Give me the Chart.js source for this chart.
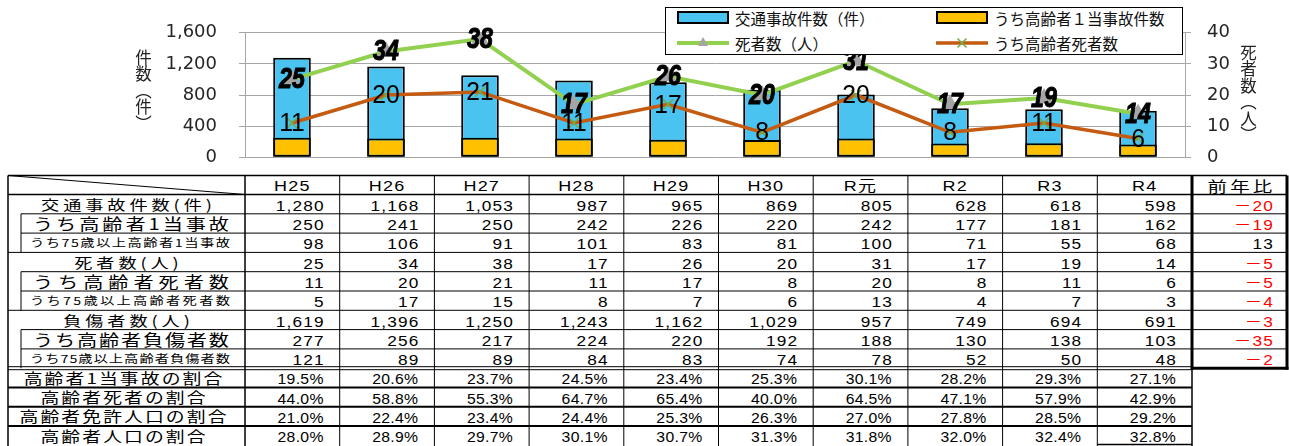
<!DOCTYPE html>
<html lang="ja">
<head>
<meta charset="utf-8">
<title>交通事故の推移</title>
<script src="https://cdn.jsdelivr.net/npm/chart.js@4.4.1/dist/chart.umd.min.js"></script>
<style>
  html, body { margin: 0; padding: 0; background: #fff; }
  #page { position: relative; width: 1289px; height: 446px; overflow: hidden; font-family: "Noto Sans CJK JP", sans-serif; }
  #table { position: absolute; left: 0; top: 0; z-index: 1; }
  #chartBox { position: absolute; left: 0; top: 0; width: 1289px; height: 190px; z-index: 2; }
  .axisTitle { position: absolute; writing-mode: vertical-rl; font-size: 16.5px; line-height: 1; color: #222; z-index: 3; }
  #legend { position: absolute; left: 665px; top: 7px; width: 516px; height: 46px; border: 1.5px solid #000; background: #fff; z-index: 3; }
  .lgItem { position: absolute; height: 20px; display: flex; align-items: center; }
  .lgItem span { margin-left: 5px; font-size: 15.5px; color: #111; white-space: nowrap; }
</style>
</head>
<body>
<div id="page">
  <svg id="table" width="1289" height="446"></svg>
  <div id="chartBox"><canvas id="chart" width="1289" height="190"></canvas></div>
  <div class="axisTitle" style="left:135px; top:49px;">件数（件）</div>
  <div class="axisTitle" style="left:1240px; top:44px;">死者数（人）</div>
  <div id="legend"></div>
</div>

<script>
// ---- data ----
const years = ['H25', 'H26', 'H27', 'H28', 'H29', 'H30', 'R元', 'R2', 'R3', 'R4'];

const accidents        = [1280, 1168, 1053, 987, 965, 869, 805, 628, 618, 598];
const elderlyAccidents = [250, 241, 250, 242, 226, 220, 242, 177, 181, 162];
const over75Accidents  = [98, 106, 91, 101, 83, 81, 100, 71, 55, 68];
const deaths           = [25, 34, 38, 17, 26, 20, 31, 17, 19, 14];
const elderlyDeaths    = [11, 20, 21, 11, 17, 8, 20, 8, 11, 6];
const over75Deaths     = [5, 17, 15, 8, 7, 6, 13, 4, 7, 3];
const injured          = [1619, 1396, 1250, 1243, 1162, 1029, 957, 749, 694, 691];
const elderlyInjured   = [277, 256, 217, 224, 220, 192, 188, 130, 138, 103];
const over75Injured    = [121, 89, 89, 84, 83, 74, 78, 52, 50, 48];

const yoyDiff = [-20, -19, 13, -5, -5, -4, -3, -35, -2];

const shareElderlyAccidents = [19.5, 20.6, 23.7, 24.5, 23.4, 25.3, 30.1, 28.2, 29.3, 27.1];
const shareElderlyDeaths    = [44.0, 58.8, 55.3, 64.7, 65.4, 40.0, 64.5, 47.1, 57.9, 42.9];
const shareElderlyLicense   = [21.0, 22.4, 23.4, 24.4, 25.3, 26.3, 27.0, 27.8, 28.5, 29.2];
const shareElderlyPop       = [28.0, 28.9, 29.7, 30.1, 30.7, 31.3, 31.8, 32.0, 32.4, 32.8];

const seriesNames = ['交通事故件数（件）', 'うち高齢者１当事故件数', '死者数（人）', 'うち高齢者死者数'];

const countLabels = ['交通事故件数(件)', 'うち高齢者1当事故', 'うち75歳以上高齢者1当事故',
                     '死者数(人)', 'うち高齢者死者数', 'うち75歳以上高齢者死者数',
                     '負傷者数(人)', 'うち高齢者負傷者数', 'うち75歳以上高齢者負傷者数'];
const countRows = [accidents, elderlyAccidents, over75Accidents, deaths, elderlyDeaths,
                   over75Deaths, injured, elderlyInjured, over75Injured];
const ratioLabels = ['高齢者1当事故の割合', '高齢者死者の割合', '高齢者免許人口の割合', '高齢者人口の割合'];
const ratioRows = [shareElderlyAccidents, shareElderlyDeaths, shareElderlyLicense, shareElderlyPop];
const diffHeader = '前年比';

// ---- colours ----
const BLUE = '#4BC3F1', ORANGE = '#FFC000', GREEN = '#92D050', BROWN = '#C55A11';
const TRI = '#A5A5A5', XMARK = '#70AD47', GRID = '#A6A6A6';

// ---- value labels drawn on the line points ----
const pointLabels = {
  id: 'pointLabels',
  afterDatasetsDraw(chart) {
    const ctx = chart.ctx;
    chart.data.datasets.forEach((ds, i) => {
      if (!ds.valueLabel) return;
      chart.getDatasetMeta(i).data.forEach((pt, j) => {
        ctx.save();
        ctx.translate(pt.x, pt.y + 1);
        ctx.scale(ds.valueLabel.sx, 1);
        ctx.font = ds.valueLabel.font;
        ctx.textAlign = 'center';
        ctx.textBaseline = 'middle';
        ctx.fillStyle = '#000';
        ctx.fillText(String(ds.data[j]), 0, 0);
        if (ds.valueLabel.stroke) {
          ctx.lineWidth = ds.valueLabel.stroke;
          ctx.strokeStyle = '#000';
          ctx.strokeText(String(ds.data[j]), 0, 0);
        }
        ctx.restore();
      });
    });
  }
};

const tickFont = { family: '"DejaVu Sans", sans-serif', size: 18 };

new Chart(document.getElementById('chart'), {
  type: 'bar',
  data: {
    labels: years,
    datasets: [
      { type: 'bar', label: seriesNames[0], data: accidents, yAxisID: 'y', order: 3,
        backgroundColor: BLUE, borderColor: '#000', borderWidth: 2, borderSkipped: false,
        grouped: false, barPercentage: 0.5, categoryPercentage: 0.8 },
      { type: 'bar', label: seriesNames[1], data: elderlyAccidents, yAxisID: 'y', order: 2,
        backgroundColor: ORANGE, borderColor: '#000', borderWidth: 2, borderSkipped: false,
        grouped: false, barPercentage: 0.5, categoryPercentage: 0.8 },
      { type: 'line', label: seriesNames[2], data: deaths, yAxisID: 'y1', order: 1,
        borderColor: GREEN, borderWidth: 4, tension: 0,
        pointStyle: 'triangle', pointRadius: 6, pointBackgroundColor: TRI, pointBorderColor: TRI,
        valueLabel: { font: 'italic bold 29px "Liberation Sans", sans-serif', sx: 0.8, stroke: 1 } },
      { type: 'line', label: seriesNames[3], data: elderlyDeaths, yAxisID: 'y1', order: 0,
        borderColor: BROWN, borderWidth: 3.5, tension: 0,
        pointStyle: 'crossRot', pointRadius: 7, pointBorderColor: XMARK, pointBorderWidth: 1.5,
        valueLabel: { font: '26px "Liberation Sans", sans-serif', sx: 0.95 } }
    ]
  },
  options: {
    responsive: false,
    animation: false,
    events: [],
    layout: { padding: { top: 26, bottom: 23, left: 0, right: 0 } },
    plugins: { legend: { display: false }, tooltip: { enabled: false } },
    scales: {
      x: { display: false },
      y: {
        position: 'left', min: 0, max: 1600,
        ticks: { stepSize: 400, padding: 22, color: '#262626', font: tickFont,
                 callback: v => v.toLocaleString('en-US') },
        grid: { color: GRID, tickLength: 6 },
        border: { color: GRID },
        afterFit(s) { s.width = 245; }
      },
      y1: {
        position: 'right', min: 0, max: 40,
        ticks: { stepSize: 10, padding: 16, color: '#262626', font: tickFont },
        grid: { drawOnChartArea: false, color: GRID, tickLength: 6 },
        border: { color: GRID },
        afterFit(s) { s.width = 104; }
      }
    }
  },
  plugins: [pointLabels]
});

// ---- legend ----
const legend = document.getElementById('legend');
const swatches = [
  `<rect x="1" y="4" width="50" height="11" fill="${BLUE}" stroke="#000" stroke-width="2"/>`,
  `<rect x="1" y="4" width="50" height="11" fill="${ORANGE}" stroke="#000" stroke-width="2"/>`,
  `<line x1="0" y1="10" x2="52" y2="10" stroke="${GREEN}" stroke-width="4"/><polygon points="26,4 31,13 21,13" fill="${TRI}"/>`,
  `<line x1="0" y1="10" x2="52" y2="10" stroke="${BROWN}" stroke-width="3.5"/><path d="M21.5,5.5 L30.5,14.5 M30.5,5.5 L21.5,14.5" stroke="${XMARK}" stroke-width="1.5"/>`
];
seriesNames.forEach((name, i) => {
  const d = document.createElement('div');
  d.className = 'lgItem';
  d.style.left = (i % 2 === 0 ? 11 : 270) + 'px';
  d.style.top = (i < 2 ? 0 : 25) + 'px';
  d.innerHTML = `<svg width="53" height="20">${swatches[i]}</svg><span>${name}</span>`;
  legend.appendChild(d);
});

// ---- table ----
const NS = 'http://www.w3.org/2000/svg';
const svg = document.getElementById('table');
const JP = '"Noto Sans CJK JP", sans-serif';
const NUM = '"Liberation Sans", "Noto Sans CJK JP", sans-serif';

const G = { left: 8, sub: 21, colL: 245, colW: 94.7, right: 1287, top: 175.5, headB: 194.5, rowH: 19.3 };
const colX = k => G.colL + k * G.colW;
const rowTop = r => G.headB + r * G.rowH;
const rowMid = r => rowTop(r) + G.rowH / 2;

function line(x1, y1, x2, y2, w) {
  const l = document.createElementNS(NS, 'line');
  l.setAttribute('x1', x1); l.setAttribute('y1', y1);
  l.setAttribute('x2', x2); l.setAttribute('y2', y2);
  l.setAttribute('stroke', '#000'); l.setAttribute('stroke-width', w || 1);
  svg.appendChild(l);
}
function text(x, y, str, o) {
  const t = document.createElementNS(NS, 'text');
  const sx = o.sx || 1;
  t.setAttribute('transform', `translate(${x},${y}) scale(${sx},1)`);
  t.setAttribute('text-anchor', o.anchor || 'middle');
  t.setAttribute('dominant-baseline', 'central');
  t.setAttribute('font-family', o.family || JP);
  t.setAttribute('font-size', o.size);
  t.setAttribute('fill', o.fill || '#000');
  if (o.ls) t.style.letterSpacing = o.ls + 'px';
  if (o.fit) { t.setAttribute('textLength', o.fit / sx); t.setAttribute('lengthAdjust', 'spacing'); }
  t.textContent = str;
  svg.appendChild(t);
}

const labelStyle = {
  main:  { size: 14, ls: 3, sx: 1.3, x: 126.5 },
  sub:   { size: 15.5, sx: 1.3, fitL: 33, fitR: 229 },
  small: { size: 11, sx: 1.3, fitL: 30, fitR: 230 },
  ratio: { size: 14.5, ls: 1.6, sx: 1.3, x: 123 }
};
const numStyle = { family: NUM, size: 15, ls: 1, sx: 1.15, anchor: 'end' };
const pctStyle = { family: NUM, size: 15, ls: 0.3, sx: 1.05, anchor: 'end' };

function drawLabel(r, str, kind) {
  const st = labelStyle[kind];
  if (st.fitL !== undefined) {
    text(st.fitL, rowMid(r), str, { size: st.size, sx: st.sx, anchor: 'start', fit: st.fitR - st.fitL });
  } else {
    text(st.x + st.ls * st.sx / 2, rowMid(r), str, { size: st.size, sx: st.sx, ls: st.ls });
  }
}

// header
const headMid = (G.top + G.headB) / 2 + 1;
years.forEach((y, k) => text(colX(k) + G.colW / 2, headMid, y, { family: NUM, size: 15, ls: 1, sx: 1.2 }));
text((colX(10) + G.right) / 2 + 2, headMid, diffHeader, { size: 15, ls: 2.5, sx: 1.3 });

// count rows
const kinds = ['main', 'sub', 'small'];
countRows.forEach((vals, r) => {
  drawLabel(r, countLabels[r], kinds[r % 3]);
  vals.forEach((v, k) => text(colX(k + 1) - 15, rowMid(r) + 1, v.toLocaleString('en-US'), numStyle));
  const d = yoyDiff[r];
  text(G.right - 13, rowMid(r) + 1, d < 0 ? '－' + (-d) : String(d),
       Object.assign({}, numStyle, { fill: d < 0 ? '#FF0000' : '#000' }));
});

// ratio rows
ratioRows.forEach((vals, i) => {
  const r = countRows.length + i;
  drawLabel(r, ratioLabels[i], 'ratio');
  vals.forEach((v, k) => text(colX(k + 1) - 16, rowMid(r) + 1, v.toFixed(1) + '%', pctStyle));
});

// grid lines
line(G.left, G.top, G.right, G.top, 1.5);
line(G.left, G.headB, G.right, G.headB, 1.5);
line(G.left, G.top, colX(0), G.headB, 1);
for (let r = 0; r < countRows.length; r++) {
  const y = rowTop(r + 1);
  if (r === countRows.length - 1) {
    line(G.left, y - 1.5, colX(10), y - 1.5, 1);
    line(G.left, y + 1.5, colX(10), y + 1.5, 1);
    line(colX(10), y, G.right + 1.5, y, 3);
  } else {
    line(r % 3 === 2 ? G.left : G.sub, y, G.right, y, 1);
  }
}
for (let i = 1; i < ratioRows.length; i++) {
  const y = rowTop(countRows.length + i);
  line(G.left, y, colX(10), y, 2);
}
line(colX(9), 444.5, colX(10), 444.5, 1.5);

line(G.left, G.top, G.left, 446, 1.5);
for (let g = 0; g < 3; g++) line(G.sub, rowTop(g * 3 + 1), G.sub, rowTop(g * 3 + 3), 1);
line(colX(0), G.top, colX(0), 446, 1.5);
for (let k = 1; k < 10; k++) line(colX(k), G.top, colX(k), 446, 1);
const endY = rowTop(countRows.length);
line(colX(10), G.top, colX(10), endY + 1.5, 3);
line(colX(10), endY, colX(10), 446, 1.5);
line(G.right, G.top, G.right, endY + 1.5, 3);
</script>
</body>
</html>
